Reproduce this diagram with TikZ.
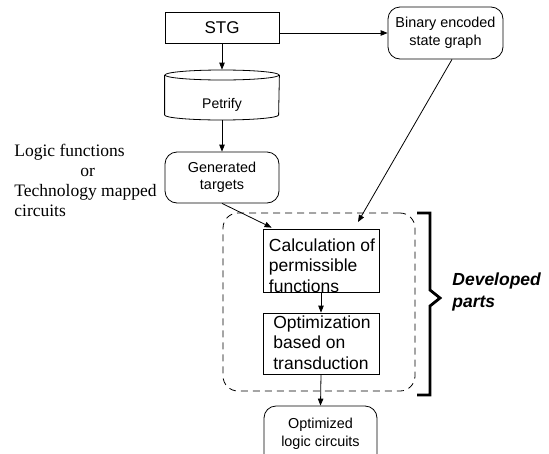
\documentclass[tikz,border=0pt]{standalone}
\usepackage{fontspec}
\setmainfont{Liberation Sans}
\newfontfamily\seriffont{Liberation Serif}
\usetikzlibrary{arrows.meta,calc}
\begin{document}
\begin{tikzpicture}[x=1pt,y=-1pt,
  line width=0.8pt,
  arr/.style={-{Triangle[length=7pt,width=5.5pt]}},
  rbox/.style={draw, rounded corners=12pt, align=center, inner sep=0pt,
    font=\fontsize{14.4}{17.5}\selectfont},
  sbox/.style={draw, minimum width=116pt, inner sep=0pt},
  txt/.style={align=left, inner sep=0pt, font=\fontsize{17.5}{20.5}\selectfont}]
\clip (0,0) rectangle (549,453);
\useasboundingbox (0,0) rectangle (549,453);

% top row
\node[draw, minimum width=114pt, minimum height=31pt, inner sep=0pt,
  font=\fontsize{17}{20}\selectfont] (stg) at (222,27.5) {STG};
\node[rbox, minimum width=115pt, minimum height=52pt] (bin) at (445.5,33) {Binary encoded\\state graph};

% petrify cylinder
\node[minimum width=114pt, minimum height=50pt, inner sep=0pt] (pet) at (222,95) {};
\draw (pet.north west |- 0,75) -- (pet.north west |- 0,115)
  arc[start angle=180, end angle=360, x radius=57pt, y radius=5pt]
  -- (pet.north east |- 0,75);
\draw (222,75) ellipse[x radius=57pt, y radius=5pt];
\node[font=\fontsize{14}{17}\selectfont] (pettxt) at (222,105) {Petrify};

\node[rbox, minimum width=114pt, minimum height=51pt] (gen) at (222,177.5) {Generated\\targets};

\node[anchor=north west, inner sep=0pt, align=left,
  font=\seriffont\fontsize{17.5}{20}\selectfont] (lf) at (14,144)
  {Logic functions\\\hspace*{66pt}or\\Technology mapped\\circuits};

% developed parts
\node[draw, dashed, dash pattern=on 7pt off 5pt, rounded corners=15pt,
  minimum width=192pt, minimum height=178pt, inner sep=0pt] (dev) at (319,302) {};
\node[sbox, minimum height=63pt] (calc) at (321,260.5) {};
\node[txt] (calctxt) at (322,265.5) {Calculation of\\permissible\\functions};
\node[sbox, minimum height=61pt] (opt) at (321,343.5) {};
\node[txt] (opttxt) at (322,342.5) {Optimization\\based on\\transduction};

\node[rbox, minimum width=113pt, minimum height=60pt] (out) at (320.5,436) {};
\node[align=center, inner sep=0pt, font=\fontsize{14.4}{17.5}\selectfont] (outtxt) at (320.5,434) {Optimized\\logic circuits};

\draw[line width=2.8pt, line join=miter] (417,213) -- (430,213) -- (430,290) -- (440,298)
  -- (430,306) -- (430,395) -- (417,395);
\node[txt, anchor=west, font=\bfseries\itshape\fontsize{17.5}{22.5}\selectfont] (devtxt)
  at (452,292) {Developed\\parts};

% connectors
\coordinate (calcin1) at ($(calc.north west)+(9,-1)$);
\coordinate (calcin2) at (358,222);
\draw[arr] (stg) -- (pet.north);
\draw[arr] (bin.west -| stg.east) -- (bin.west);
\draw[arr] (pet.south) -- (gen.north);
\draw[arr] (gen.south) -- (calcin1);
\draw[arr] ([xshift=6.5pt]bin.south) -- (calcin2);
\draw[arr] (calc.south) -- (opt.north);
\draw[arr] (opt.south) -- (out.north);
\end{tikzpicture}
\end{document}
